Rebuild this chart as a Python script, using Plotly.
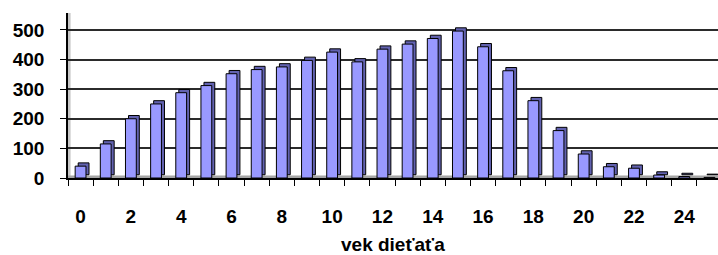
import plotly.graph_objects as go

ages = list(range(26))
counts = [40, 115, 200, 250, 288, 312, 352, 366, 375, 397, 425, 392, 435,
          452, 471, 496, 443, 362, 261, 160, 81, 38, 33, 10, 5, 2]
y_ticks = [0, 100, 200, 300, 400, 500]
x_label_ticks = list(range(0, 25, 2))
x_title = "vek dieťaťa"

DEPTH = 11          # 3-D depth shift of the bar, in value units
BAR_W = 0.43
SHIFT = 0.12        # 3-D sideways shift, in category units

FONT = dict(family="Liberation Sans, Arial, sans-serif", size=19, color="black", weight="bold")
TITLE_FONT = dict(family="Liberation Sans, Arial, sans-serif", size=19, color="black", weight="bold")

fig = go.Figure()
# back/side face (shifted right and up)
fig.add_trace(go.Bar(
    x=ages, y=counts, base=DEPTH, width=BAR_W, offset=-BAR_W / 2 + SHIFT,
    marker=dict(color="#6262b0", line=dict(color="black", width=1)),
    hoverinfo="skip", showlegend=False,
))
# front face
fig.add_trace(go.Bar(
    x=ages, y=counts, width=BAR_W, offset=-BAR_W / 2,
    marker=dict(color="#9999ff", line=dict(color="black", width=1)),
    showlegend=False,
))

# floor of the 3-D chart
fig.add_shape(type="rect", xref="x", yref="y", x0=-0.5, x1=26, y0=0, y1=DEPTH * 0.8,
              fillcolor="#a6a6a6", line=dict(width=0), layer="below")
# left wall shading
fig.add_shape(type="rect", xref="paper", yref="paper", x0=0, x1=0.004, y0=0, y1=1,
              fillcolor="#c8c8c8", line=dict(width=0), layer="below")

fig.add_annotation(text=x_title, xref="paper", yref="paper", x=0.5, y=0,
                   xanchor="center", yanchor="middle", yshift=-66,
                   showarrow=False, font=TITLE_FONT)

fig.update_layout(
    width=718, height=255,
    margin=dict(l=68, r=0, t=13, b=77),
    paper_bgcolor="white", plot_bgcolor="white",
    barmode="overlay",
    font=FONT,
)
fig.update_xaxes(
    range=[-0.5, 25.34], tickmode="array", tickvals=x_label_ticks,
    ticks="", tickfont=FONT, ticklabelstandoff=20, automargin=False,
    showline=True, linecolor="black", linewidth=2, showgrid=False, zeroline=False,
    minor=dict(tick0=-0.5, dtick=1, ticks="outside", ticklen=6, tickcolor="black", tickwidth=1, showgrid=False),
)
fig.update_yaxes(
    range=[0, 557], tickmode="array", tickvals=y_ticks,
    ticks="outside", ticklen=6, tickcolor="black", tickwidth=1,
    tickfont=FONT, ticklabelstandoff=12, automargin=False,
    showline=True, linecolor="black", linewidth=1.5,
    showgrid=True, gridcolor="#2b2b2b", gridwidth=1.5, zeroline=False,
)

fig.write_html(
    "out.html",
    config={"displayModeBar": False},
    post_script="document.body.style.margin='0';document.body.style.overflow='hidden';",
)
